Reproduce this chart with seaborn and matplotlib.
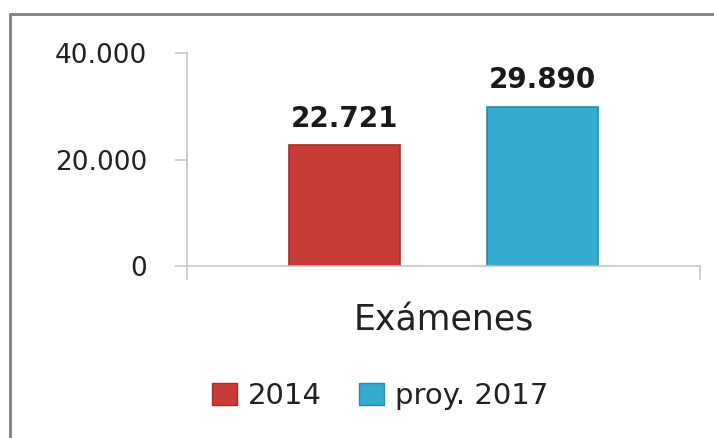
"""
Exámenes: 2014 vs proyección 2017.
"""
from matplotlib import pyplot as plt
from matplotlib.patches import Patch
from matplotlib.lines import Line2D
from matplotlib.ticker import FuncFormatter
import pandas as pd
import seaborn as sns


# Data
categorias = ['Exámenes']
series = ['2014', 'proy. 2017']
valores = [22721, 29890]
colores = ['#C93B37', '#34ABCF']
bordes = ['#A52E2B', '#2A8BAA']
yticks = [0, 20000, 40000]

sns.set_style('white')
plt.rcParams.update({'font.family': 'DejaVu Sans', 'text.color': '#222222',
                     'xtick.color': '#c4c4c4', 'ytick.color': '#c4c4c4',
                     'xtick.labelcolor': '#222222',
                     'ytick.labelcolor': '#222222'})


def miles(v, pos=None):
    # 22721 -> '22.721'
    return f'{v:,.0f}'.replace(',', '.')


df = pd.DataFrame({'categoria': categorias * len(series),
                   'serie': series,
                   'valor': valores})

fig = plt.figure(figsize=(7.14, 4.38), dpi=100)
ax = fig.add_axes([187 / 714, 172 / 438, 513 / 714, 213 / 438])

sns.barplot(data=df, x='categoria', y='valor', hue='serie',
            palette=colores, saturation=1, width=0.772, gap=0.435,
            legend=False, ax=ax)

# darker rim, like the bevelled bars of the original
for cont, borde in zip(ax.containers, bordes):
    for bar in cont:
        bar.set_edgecolor(borde)
        bar.set_linewidth(1.2)

# Value labels on top of the bars
for cont in ax.containers:
    ax.bar_label(cont, labels=[miles(v) for v in cont.datavalues],
                 padding=9, fontsize=20, fontweight='bold', color='#1a1a1a')

# Axes styling
ax.set_xlim(-0.5, 0.5)
ax.set_ylim(0, 40000)
ax.set_yticks(yticks)
ax.yaxis.set_major_formatter(FuncFormatter(miles))
ax.tick_params(axis='y', length=8.6, width=1.1, pad=20, labelsize=19,
               left=True)
ax.set_xticks([0])
ax.set_xticklabels(categorias)
ax.set_xticks([-0.5, 0.5], minor=True)
ax.tick_params(axis='x', which='major', length=0, pad=27, labelsize=25)
ax.tick_params(axis='x', which='minor', length=10, width=1.1, bottom=True)
ax.set_xlabel('')
ax.set_ylabel('')
sns.despine(ax=ax)
for side in ['left', 'bottom']:
    ax.spines[side].set_color('#c4c4c4')
    ax.spines[side].set_linewidth(1.1)

# Legend below the chart
handles = [Patch(facecolor=c, edgecolor=b, label=s)
           for s, c, b in zip(series, colores, bordes)]
fig.legend(handles=handles, loc='center left',
           bbox_to_anchor=(186 / 714, 0.096), ncol=2, frameon=False,
           fontsize=21, handlelength=0.85, handleheight=0.8,
           handletextpad=0.36, columnspacing=1.3)

# Grey frame (only top and left edges are visible in the picture)
fig.add_artist(Line2D([9.5 / 714, 1.05], [1 - 14 / 438, 1 - 14 / 438],
                      transform=fig.transFigure, color='#808080', lw=2))
fig.add_artist(Line2D([9.5 / 714, 9.5 / 714], [-0.05, 1 - 14 / 438],
                      transform=fig.transFigure, color='#808080', lw=2))

fig.savefig('out.png', dpi=100)
